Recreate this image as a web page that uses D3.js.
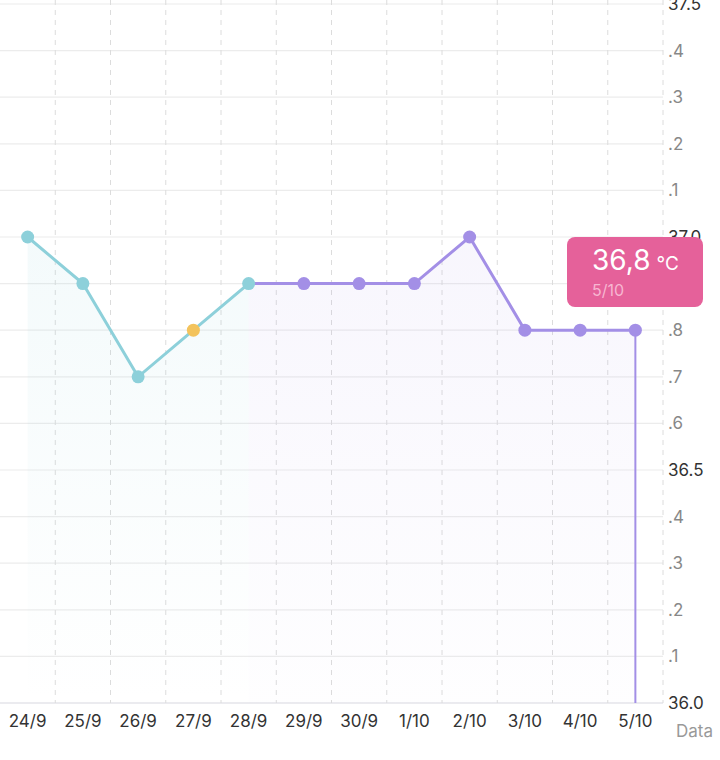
<!DOCTYPE html>
<html><head><meta charset="utf-8">
<script src="https://cdn.jsdelivr.net/npm/d3@7"></script>
<style>body{margin:0;background:#fff}svg{display:block}</style>
</head><body>
<svg id="chart" width="720" height="760"></svg>
<script>
const dates = ["24/9","25/9","26/9","27/9","28/9","29/9","30/9","1/10","2/10","3/10","4/10","5/10"];
const temps = [37.0, 36.9, 36.7, 36.8, 36.9, 36.9, 36.9, 36.9, 37.0, 36.8, 36.8, 36.8];
const phase = ["a","a","a","b","a","c","c","c","c","c","c","c"];
const yTicks = [36.0,36.1,36.2,36.3,36.4,36.5,36.6,36.7,36.8,36.9,37.0,37.1,37.2,37.3,37.4,37.5];

const teal = "#8dd0da", yellow = "#f3c35c", purple = "#a38fe6";
const font = "Inter, 'Noto Sans', sans-serif";
const svg = d3.select("#chart");
const x = d3.scaleBand().domain(dates).range([0, 663]);
const cx = d => x(d) + x.bandwidth() / 2;
const y = d3.scaleLinear().domain([36.0, 37.5]).range([703, 4]);

const defs = svg.append("defs");
const g1 = defs.append("linearGradient").attr("id","gA").attr("x1",0).attr("x2",0).attr("y1",0).attr("y2",1);
g1.append("stop").attr("offset","0%").attr("stop-color",teal).attr("stop-opacity",0.1);
g1.append("stop").attr("offset","100%").attr("stop-color",teal).attr("stop-opacity",0.0);
const g2 = defs.append("linearGradient").attr("id","gB").attr("x1",0).attr("x2",0).attr("y1",0).attr("y2",1);
g2.append("stop").attr("offset","0%").attr("stop-color",purple).attr("stop-opacity",0.08);
g2.append("stop").attr("offset","100%").attr("stop-color",purple).attr("stop-opacity",0.01);

// horizontal grid
svg.append("g").selectAll("line").data(yTicks).join("line")
  .attr("x1",0).attr("x2",663).attr("y1",d=>y(d)).attr("y2",d=>y(d))
  .attr("stroke", d => d === 36.0 ? "#d8d8e0" : "#ececec").attr("stroke-width",1.2);
// vertical dashed grid
svg.append("g").selectAll("line").data(dates).join("line")
  .attr("x1",d=>x(d)+x.bandwidth()).attr("x2",d=>x(d)+x.bandwidth())
  .attr("y1",0).attr("y2",703)
  .attr("stroke","#dcdcdc").attr("stroke-dasharray","5,5").attr("stroke-width",1);

const pts = dates.map((d,i)=>({d, v:temps[i], p:phase[i]}));
const area = d3.area().x(p=>cx(p.d)).y0(y(36.0)).y1(p=>y(p.v));
svg.append("path").datum(pts.slice(0,5)).attr("d",area).attr("fill","url(#gA)");
svg.append("path").datum(pts.slice(4)).attr("d",area).attr("fill","url(#gB)");

const line = d3.line().x(p=>cx(p.d)).y(p=>y(p.v));
svg.append("path").datum(pts.slice(0,5)).attr("d",line).attr("fill","none").attr("stroke",teal).attr("stroke-width",3);
svg.append("path").datum(pts.slice(4)).attr("d",line).attr("fill","none").attr("stroke",purple).attr("stroke-width",3);

// selected marker line
const last = pts[pts.length-1];
svg.append("line").attr("x1",cx(last.d)).attr("x2",cx(last.d)).attr("y1",y(last.v)).attr("y2",y(36.0))
  .attr("stroke",purple).attr("stroke-width",2);

svg.append("g").selectAll("circle").data(pts).join("circle")
  .attr("cx",p=>cx(p.d)).attr("cy",p=>y(p.v)).attr("r",6.5)
  .attr("fill",p=> p.p==="b" ? yellow : (p.p==="a" ? teal : purple));

// y labels
svg.append("g").selectAll("text").data(yTicks).join("text")
  .attr("x",668).attr("y",d=>y(d)+6)
  .attr("font-family",font).attr("font-size",17)
  .attr("fill", d => Math.round(d*10)%5===0 ? "#333" : "#888")
  .text(d => Math.round(d*10)%5===0 ? d.toFixed(1) : "." + Math.round(d*10)%10);

// x labels
svg.append("g").selectAll("text").data(dates).join("text")
  .attr("x",d=>cx(d)).attr("y",727).attr("text-anchor","middle")
  .attr("font-family",font).attr("font-size",17).attr("fill","#333")
  .text(d=>d);
svg.append("text").attr("x",676).attr("y",737).attr("font-family",font)
  .attr("font-size",17).attr("fill","#999").text("Data");

// tooltip
const tip = svg.append("g").attr("transform","translate(567,237)");
tip.append("rect").attr("width",136).attr("height",70).attr("rx",8).attr("fill","#e5619a");
tip.append("text").attr("x",25).attr("y",33).attr("font-family",font)
  .attr("font-size",28).attr("fill","#fff").text(last.v.toFixed(1).replace(".",","))
  .append("tspan").attr("font-size",19).attr("dx",6).text("°C");
tip.append("text").attr("x",25).attr("y",59).attr("font-family",font)
  .attr("font-size",16).attr("fill","#f7b6d1").text(last.d);
</script>
</body></html>
